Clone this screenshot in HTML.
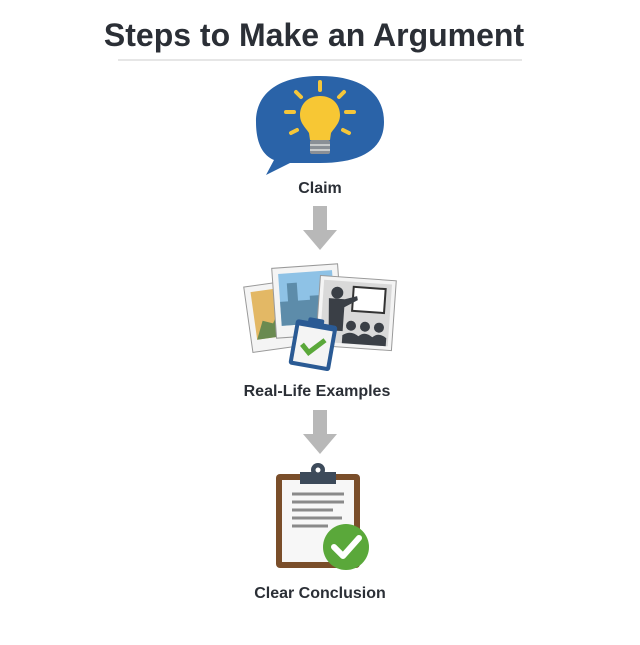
<!DOCTYPE html>
<html><head><style>
body{margin:0;width:640px;height:640px;background:#fff;overflow:hidden;font-family:"Liberation Sans",sans-serif}
</style></head><body>
<svg width="640" height="640" viewBox="0 0 640 640" xmlns="http://www.w3.org/2000/svg">
<text x="314" y="46" text-anchor="middle" font-family="Liberation Sans" font-weight="bold" font-size="32" fill="#2b2f36">Steps to Make an Argument</text>
<line x1="118" y1="60" x2="522" y2="60" stroke="#ccc" stroke-width="1"/>
<path d="M320 76 C360 76 384 92 384 122 C384 150 360 163 320 163 L290 163 L266 175 L274 160 C262 155 256 142 256 122 C256 92 280 76 320 76Z" fill="#2a63a8"/>
<g stroke="#f5c63a" stroke-width="4" stroke-linecap="round">
<line x1="320" y1="82" x2="320" y2="90"/><line x1="296" y1="92" x2="301" y2="97"/><line x1="344" y1="92" x2="339" y2="97"/>
<line x1="286" y1="112" x2="294" y2="112"/><line x1="346" y1="112" x2="354" y2="112"/>
<line x1="291" y1="133" x2="297" y2="130"/><line x1="349" y1="133" x2="343" y2="130"/></g>
<path d="M320 96 C307 96 300 105 300 115 C300 123 305 127 309 133 L310 140 L330 140 L331 133 C335 127 340 123 340 115 C340 105 333 96 320 96Z" fill="#f7c734"/>
<rect x="310" y="140" width="20" height="14" rx="2" fill="#8a8f96"/>
<line x1="310" y1="145" x2="330" y2="145" stroke="#ddd" stroke-width="1.5"/><line x1="310" y1="150" x2="330" y2="150" stroke="#ddd" stroke-width="1.5"/>
<text x="320" y="193" text-anchor="middle" font-weight="bold" font-size="16" fill="#2b2f36">Claim</text>
<path d="M313 206 H327 V230 H337 L320 250 L303 230 H313Z" fill="#b8b8b8"/>
<g transform="rotate(-8 282 315)"><rect x="248" y="282" width="68" height="66" fill="#f4f4f4" stroke="#999"/><rect x="254" y="288" width="56" height="48" fill="#e3b865"/><path d="M254 336 L262 318 L272 322 L282 306 L296 336Z" fill="#6a8a50"/></g>
<g transform="rotate(-4 307 300)"><rect x="274" y="266" width="66" height="70" fill="#f4f4f4" stroke="#999"/><rect x="280" y="272" width="54" height="52" fill="#8ec2e6"/><path d="M280 324 V300 L288 300 L288 282 L298 282 L298 300 L310 300 L310 296 L320 296 L320 324Z" fill="#5d8caa"/></g>
<g transform="rotate(4 355 312)"><rect x="318" y="278" width="76" height="70" fill="#f4f4f4" stroke="#999"/><rect x="322" y="282" width="68" height="62" fill="#d9d9d9"/><rect x="352" y="287" width="32" height="24" fill="#fff" stroke="#333" stroke-width="2"/>
<circle cx="336" cy="294" r="6" fill="#3a3f46"/><path d="M328 300 H344 L356 296 L357 300 L344 308 V332 H330Z" fill="#3a3f46"/>
<circle cx="352" cy="326" r="5" fill="#3a3f46"/><circle cx="366" cy="326" r="5" fill="#3a3f46"/><circle cx="380" cy="326" r="5" fill="#3a3f46"/>
<path d="M344 344 V336 Q352 330 360 336 Q366 330 374 336 Q380 330 388 336 V344Z" fill="#3a3f46"/></g>
<g transform="rotate(10 312 345)"><rect x="292" y="322" width="42" height="46" rx="3" fill="#2a5a94"/><rect x="296" y="328" width="34" height="36" fill="#f4f4f4"/><rect x="304" y="318" width="16" height="8" rx="2" fill="#2a5a94"/>
<path d="M302 346 L310 353 L324 338" stroke="#5aa83a" stroke-width="5" fill="none"/></g>
<text x="317" y="396" text-anchor="middle" font-weight="bold" font-size="16" fill="#2b2f36">Real-Life Examples</text>
<path d="M313 410 H327 V434 H337 L320 454 L303 434 H313Z" fill="#b8b8b8"/>
<rect x="276" y="474" width="84" height="94" rx="4" fill="#7a4e2a"/>
<rect x="282" y="480" width="72" height="82" fill="#f7f7f7"/>
<path d="M300 472 H336 V484 H300Z" fill="#3d4a5a"/><circle cx="318" cy="470" r="7" fill="#3d4a5a"/><circle cx="318" cy="470" r="2.5" fill="#fff"/>
<g stroke="#8a8a8a" stroke-width="3"><line x1="292" y1="494" x2="344" y2="494"/><line x1="292" y1="502" x2="344" y2="502"/><line x1="292" y1="510" x2="333" y2="510"/><line x1="292" y1="518" x2="342" y2="518"/><line x1="292" y1="526" x2="328" y2="526"/></g>
<circle cx="346" cy="547" r="23" fill="#5aa83a"/>
<path d="M334 547 L343 556 L359 538" stroke="#fff" stroke-width="6" fill="none" stroke-linecap="round" stroke-linejoin="round"/>
<text x="320" y="598" text-anchor="middle" font-weight="bold" font-size="16" fill="#2b2f36">Clear Conclusion</text>
</svg>
</body></html>
